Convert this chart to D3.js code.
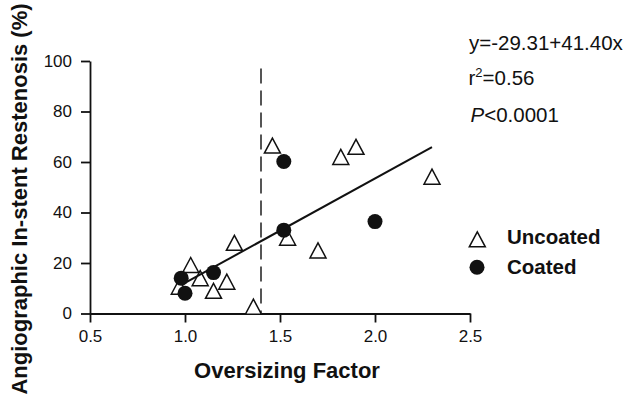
<!DOCTYPE html>
<html>
<head>
<meta charset="utf-8">
<script src="https://cdn.jsdelivr.net/npm/d3@7"></script>
<style>
  html, body { margin: 0; padding: 0; background: #fff; }
  svg { display: block; font-family: "Liberation Sans", Arial, Helvetica, sans-serif; }
</style>
</head>
<body>
<svg id="chart" width="630" height="402"></svg>
<script>
// ---- data ----
const uncoatedX = [0.97, 1.03, 1.08, 1.15, 1.22, 1.26, 1.36, 1.46, 1.54, 1.70, 1.82, 1.90, 2.30];
const uncoatedY = [10.6, 19.2, 14.0, 9.0, 12.6, 28.0, 2.7, 66.5, 30.0, 25.0, 62.0, 66.0, 54.2];
const coatedX = [0.98, 1.00, 1.15, 1.52, 1.52, 2.00];
const coatedY = [14.0, 8.0, 16.2, 33.0, 60.2, 36.4];
const xTicks = [0.5, 1.0, 1.5, 2.0, 2.5];
const yTicks = [0, 20, 40, 60, 80, 100];
const regIntercept = -29.31, regSlope = 41.40;
const regRange = [1.0, 2.3];
const cutoffX = 1.4;
const cutoffTop = 97;
const annotation = ["y=-29.31+41.40x", "r2=0.56", "P<0.0001"];
const legendLabels = ["Uncoated", "Coated"];
const xTitle = "Oversizing Factor";
const yTitle = "Angiographic In-stent Restenosis (%)";

// ---- layout ----
const svg = d3.select("#chart");
const x = d3.scaleLinear().domain([0.5, 2.5]).range([90, 470]);
const y = d3.scaleLinear().domain([0, 100]).range([313.5, 61]);

function triPath(cx, cy, w, h) {
  return `M${cx},${cy - h / 2}L${cx + w / 2},${cy + h / 2}L${cx - w / 2},${cy + h / 2}Z`;
}

// axes
const xAxis = svg.append("g").attr("transform", `translate(0,${y(0)})`)
  .call(d3.axisBottom(x).tickValues(xTicks).tickFormat(d3.format(".1f")).tickSize(9).tickSizeOuter(0).tickPadding(7));
const yAxis = svg.append("g").attr("transform", `translate(${x(0.5)},0)`)
  .call(d3.axisLeft(y).tickValues(yTicks).tickFormat(d3.format("d")).tickSize(9).tickSizeOuter(0).tickPadding(9));
[xAxis, yAxis].forEach(g => {
  g.selectAll("path, line").attr("stroke", "#111").attr("stroke-width", 1.8);
  g.selectAll("text").attr("fill", "#111").style("font-size", "17px")
    .style("font-family", '"Liberation Sans", Arial, Helvetica, sans-serif');
});

// cutoff dashed line
svg.append("line")
  .attr("x1", x(cutoffX)).attr("x2", x(cutoffX))
  .attr("y1", y(cutoffTop)).attr("y2", y(0))
  .attr("stroke", "#555").attr("stroke-width", 2)
  .attr("stroke-dasharray", "15,7");

// uncoated triangles
svg.append("g").selectAll("path")
  .data(uncoatedX.map((d, i) => [d, uncoatedY[i]]))
  .join("path")
  .attr("d", d => triPath(x(d[0]), y(d[1]), 16, 15))
  .attr("fill", "#fff").attr("stroke", "#111").attr("stroke-width", 1.5)
  .attr("stroke-linejoin", "miter");

// regression line
svg.append("path")
  .datum(regRange)
  .attr("d", d3.line().x(d => x(d)).y(d => y(regIntercept + regSlope * d)))
  .attr("stroke", "#111").attr("stroke-width", 2).attr("fill", "none");

// coated circles
svg.append("g").selectAll("circle")
  .data(coatedX.map((d, i) => [d, coatedY[i]]))
  .join("circle")
  .attr("cx", d => x(d[0])).attr("cy", d => y(d[1])).attr("r", 7.5)
  .attr("fill", "#111");

// annotation
const ann = svg.append("g").attr("fill", "#111").style("font-size", "20.5px");
ann.append("text").attr("x", 469).attr("y", 49.5).text(annotation[0]);
const t2 = ann.append("text").attr("x", 468.5).attr("y", 85);
t2.append("tspan").text("r");
t2.append("tspan").attr("dy", -8).style("font-size", "13px").text("2");
t2.append("tspan").attr("dy", 8).text("=0.56");
const t3 = ann.append("text").attr("x", 470.5).attr("y", 121.5);
t3.append("tspan").style("font-style", "italic").text("P");
t3.append("tspan").text("<0.0001");

// legend
svg.append("path").attr("d", triPath(477.3, 239.3, 16, 15))
  .attr("fill", "#fff").attr("stroke", "#111").attr("stroke-width", 1.5);
svg.append("circle").attr("cx", 477).attr("cy", 267.3).attr("r", 7.5).attr("fill", "#111");
svg.append("text").attr("x", 507).attr("y", 244.3).attr("fill", "#111")
  .style("font-size", "20.5px").style("font-weight", "bold").text(legendLabels[0]);
svg.append("text").attr("x", 507).attr("y", 274).attr("fill", "#111")
  .style("font-size", "20.5px").style("font-weight", "bold").text(legendLabels[1]);

// axis titles
svg.append("text").attr("x", 287).attr("y", 378).attr("text-anchor", "middle")
  .attr("fill", "#111").style("font-size", "22px").style("font-weight", "bold").text(xTitle);
svg.append("text").attr("transform", "translate(27,199) rotate(-90)").attr("text-anchor", "middle")
  .attr("fill", "#111").style("font-size", "22px").style("font-weight", "bold").text(yTitle);
</script>
</body>
</html>
